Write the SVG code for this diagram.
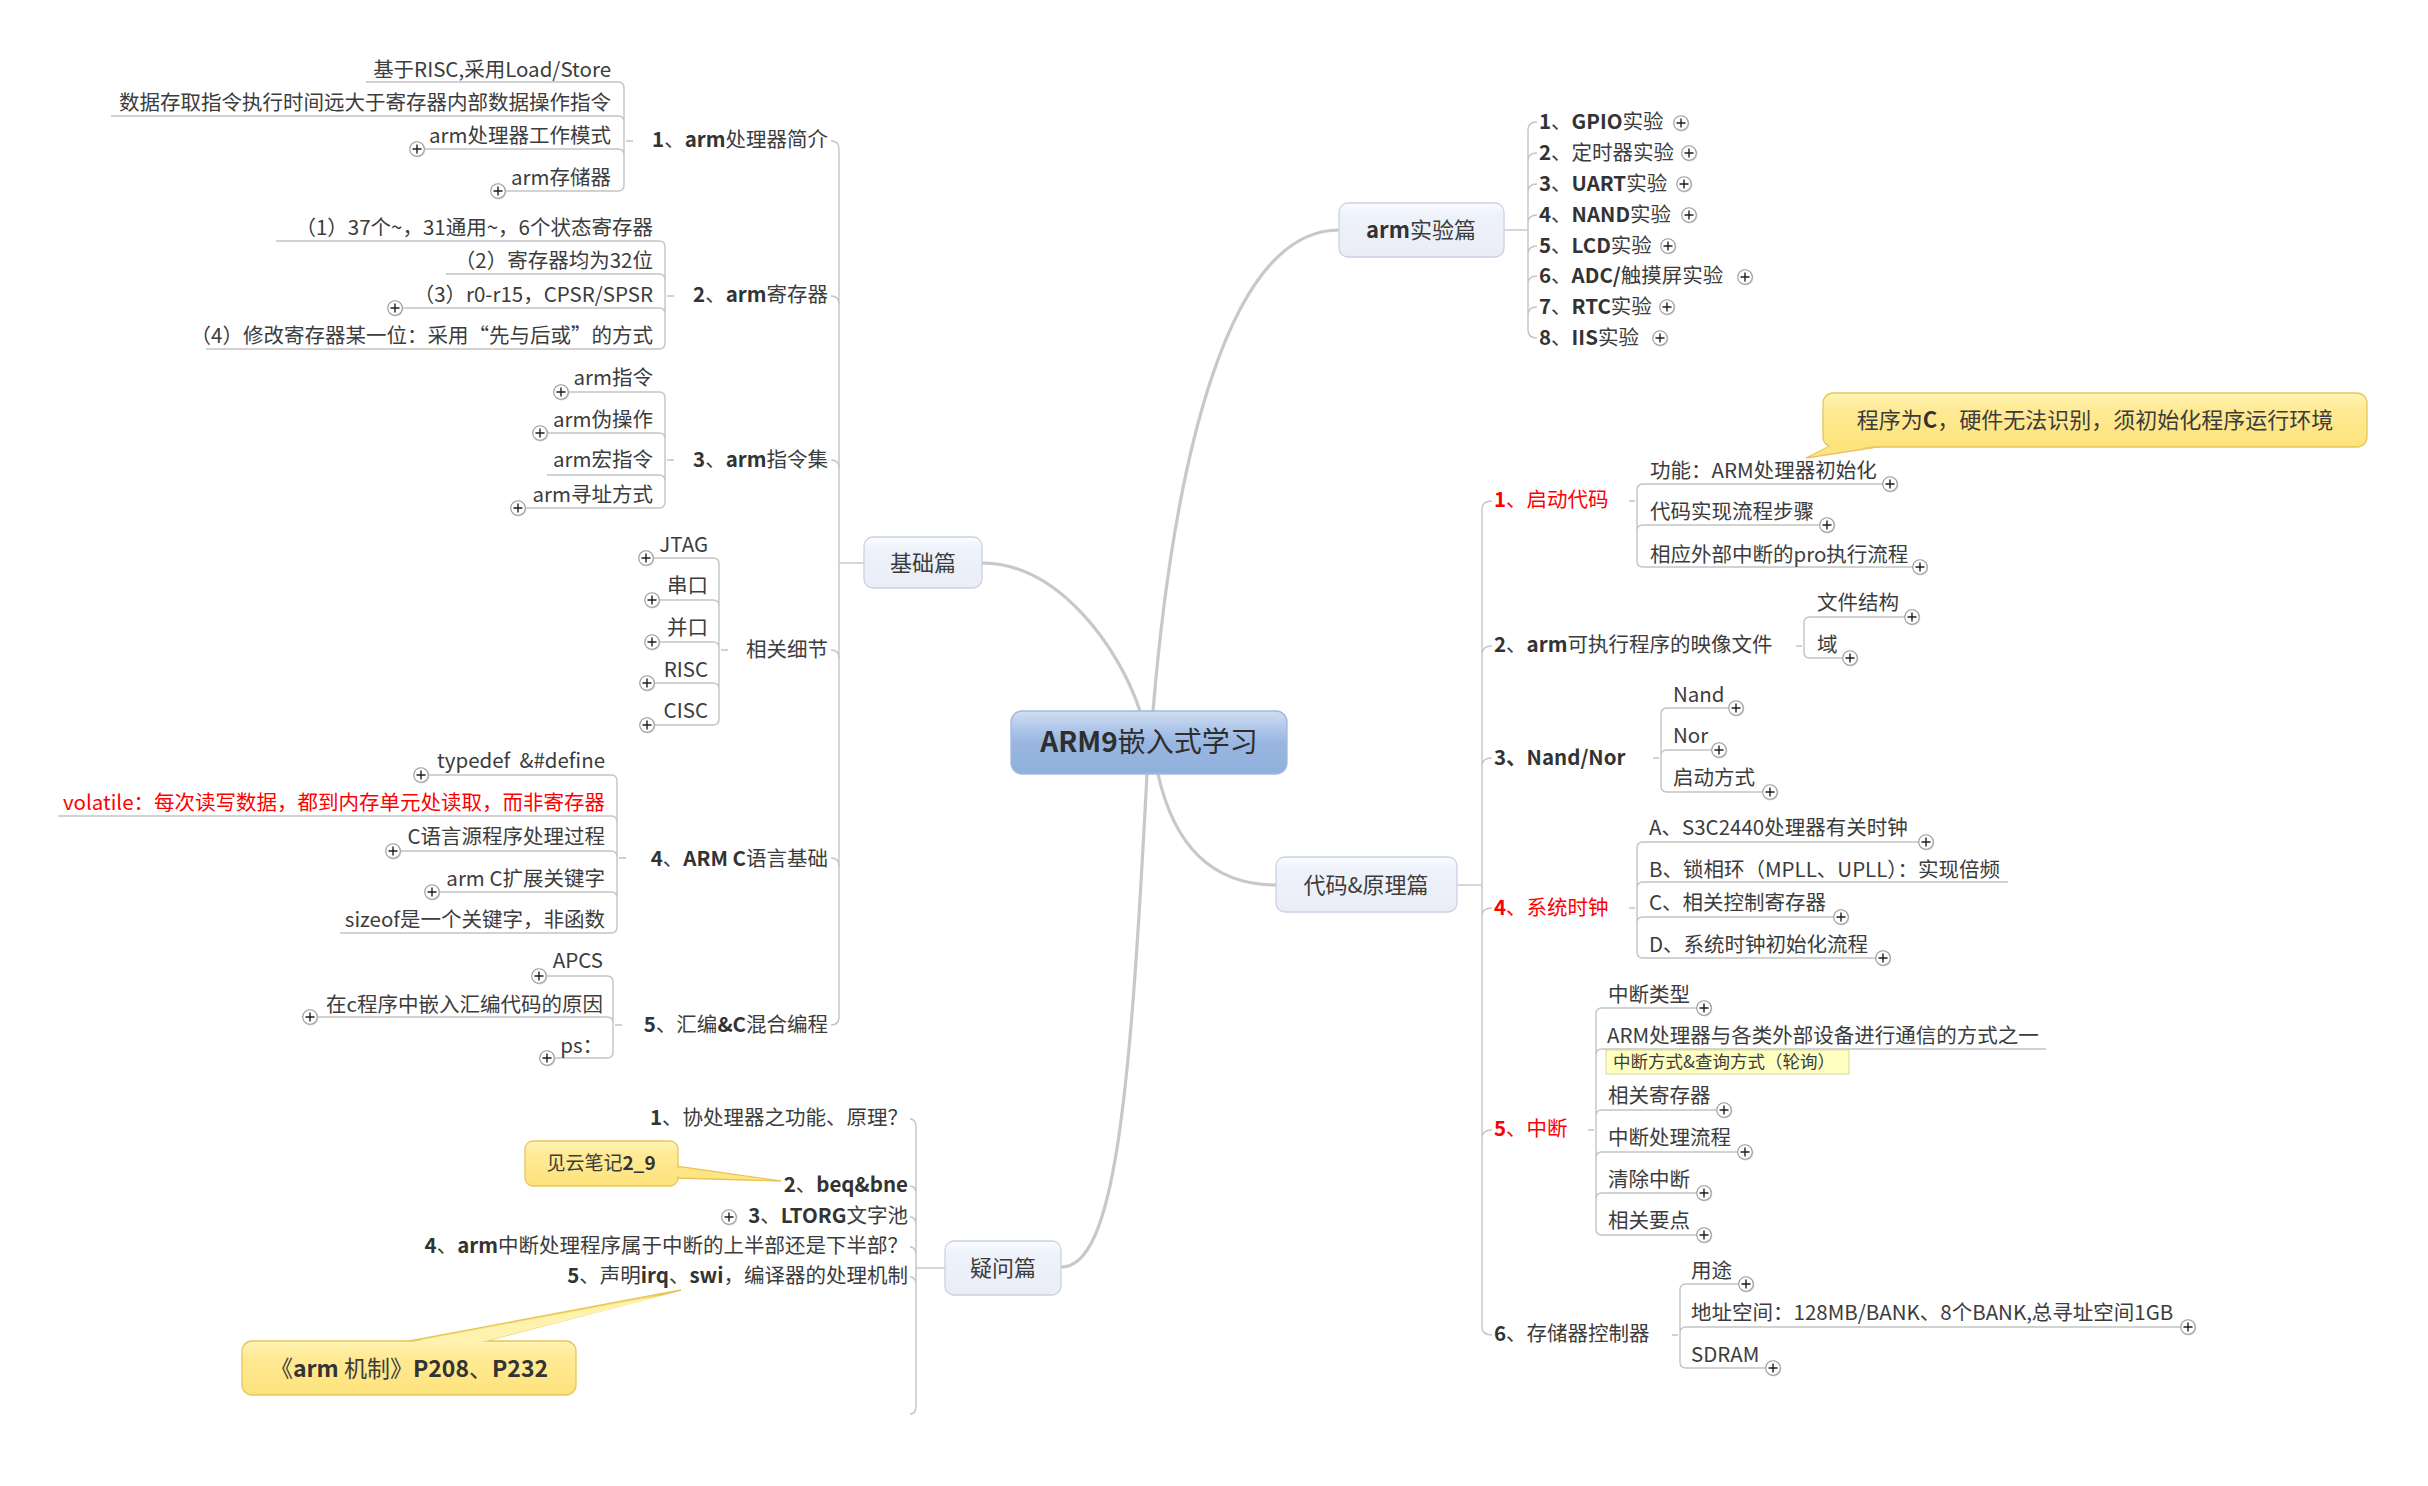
<svg xmlns="http://www.w3.org/2000/svg" xmlns:xlink="http://www.w3.org/1999/xlink" width="2428" height="1486" viewBox="0 0 2428 1486">
<defs>
<style>
.t{font-family:"Noto Sans CJK SC","Noto Sans",sans-serif;font-size:20.5px;fill:#3c3c3c}
.e{text-anchor:end}
.m{text-anchor:middle}
.b{font-weight:bold;fill:#333}
.r{fill:#ff0000}
.h{font-size:22px}
.ln{fill:none;stroke:#c4c4c4;stroke-width:1.4}
.main{fill:none;stroke:#c8c8c8;stroke-width:3.2;stroke-linecap:round}
.tb{fill:url(#gT);stroke:#cbd1e4;stroke-width:1.3}
.yb{fill:url(#gY);stroke:#e6c65a;stroke-width:1.3}
.yp{fill:#fde788;stroke:#e6c65a;stroke-width:1.3}
</style>
<linearGradient id="gC" x1="0" y1="0" x2="0" y2="1"><stop offset="0" stop-color="#d0def3"/><stop offset="0.3" stop-color="#adc5e8"/><stop offset="0.5" stop-color="#98b6df"/><stop offset="1" stop-color="#90b0dc"/></linearGradient>
<linearGradient id="gT" x1="0" y1="0" x2="0" y2="1"><stop offset="0" stop-color="#fafcff"/><stop offset="0.22" stop-color="#eef2fb"/><stop offset="1" stop-color="#eaedf6"/></linearGradient>
<linearGradient id="gY" x1="0" y1="0" x2="0" y2="1"><stop offset="0" stop-color="#fff4b6"/><stop offset="0.3" stop-color="#ffea95"/><stop offset="1" stop-color="#fde37c"/></linearGradient>
<g id="pl"><circle r="7.8" cx="0.6" cy="0.8" fill="#d8d8d8"/><circle r="7.3" fill="#fff" stroke="#999" stroke-width="1.1"/><path d="M-4.5 0H4.5M0 -4.5V4.5" stroke="#1e1e1e" stroke-width="1.4"/></g>
</defs>
<rect width="2428" height="1486" fill="#fff"/>

<g id="connectors">
<path class="main" d="M1140 711 C1120 650 1060 563 982 563"/>
<path class="main" d="M1153 711 C1175 450 1230 230 1339 230"/>
<path class="main" d="M1158 774 C1175 850 1215 885 1276 885"/>
<path class="main" d="M1147 774 C1130 1100 1115 1267 1061 1267"/>
<g class="ln">
<path d="M839 563 H864"/>
<path d="M831 141 Q839 141 839 149 V1017 Q839 1025 831 1025"/>
<path d="M831 296 Q839 296 839 304 M831 460 Q839 460 839 468 M831 650 Q839 650 839 658 M831 858 Q839 858 839 866"/>
<path d="M366 82 H618 Q624 82 624 88 M111 116 H618 Q624 116 624 122 M417 149 H618 Q624 149 624 155 M498 191 H618 Q624 191 624 185 M624 88 V185 M626 141 H633"/>
<path d="M276 241 H659 Q665 241 665 247 M446 274 H659 Q665 274 665 280 M395 308 H659 Q665 308 665 314 M206 349 H659 Q665 349 665 343 M665 247 V343 M667 296 H674"/>
<path d="M561 392 H659 Q665 392 665 398 M540 433 H659 Q665 433 665 439 M547 475 H659 Q665 475 665 481 M518 508 H659 Q665 508 665 502 M665 398 V502 M667 460 H674"/>
<path d="M646 558 H713 Q719 558 719 564 M652 600 H713 Q719 600 719 606 M652 642 H713 Q719 642 719 648 M647 683 H713 Q719 683 719 689 M647 725 H713 Q719 725 719 719 M719 564 V719 M721 650 H728"/>
<path d="M421 775 H611 Q617 775 617 781 M58 816 H611 Q617 816 617 822 M393 851 H611 Q617 851 617 857 M432 892 H611 Q617 892 617 898 M340 933 H611 Q617 933 617 927 M617 781 V927 M619 858 H626"/>
<path d="M539 976 H607 Q613 976 613 982 M310 1017 H607 Q613 1017 613 1023 M547 1058 H607 Q613 1058 613 1052 M613 982 V1052 M615 1025 H622"/>
<path d="M1504 230 H1528"/>
<path d="M1537 122 Q1528 122 1528 130 V330 Q1528 338 1537 338 M1537 153 Q1528 153 1528 161 M1537 184 Q1528 184 1528 192 M1537 215 Q1528 215 1528 223 M1537 246 Q1528 246 1528 254 M1537 276 Q1528 276 1528 284 M1537 307 Q1528 307 1528 315"/>
<path d="M1457 885 H1482"/>
<path d="M1492 501 Q1482 501 1482 509 V1327 Q1482 1335 1492 1335 M1492 646 Q1482 646 1482 654 M1492 758 Q1482 758 1482 766 M1492 908 Q1482 908 1482 916 M1492 1130 Q1482 1130 1482 1138"/>
<path d="M1637 490 Q1637 484 1643 484 H1890 M1637 531 Q1637 525 1643 525 H1827 M1637 561 Q1637 567 1643 567 H1920 M1637 490 V561 M1629 501 H1635"/>
<path d="M1804 623 Q1804 617 1810 617 H1912 M1804 652 Q1804 658 1810 658 H1850 M1804 623 V652 M1796 646 H1802"/>
<path d="M1661 714 Q1661 708 1667 708 H1736 M1661 756 Q1661 750 1667 750 H1719 M1661 786 Q1661 792 1667 792 H1770 M1661 714 V786 M1653 758 H1659"/>
<path d="M1637 848 Q1637 842 1643 842 H1926 M1637 888 Q1637 882 1643 882 H2008 M1637 923 Q1637 917 1643 917 H1841 M1637 952 Q1637 958 1643 958 H1883 M1637 848 V952 M1629 908 H1635"/>
<path d="M1596 1014 Q1596 1008 1602 1008 H1704 M1596 1055 Q1596 1049 1602 1049 H2046 M1596 1116 Q1596 1110 1602 1110 H1724 M1596 1158 Q1596 1152 1602 1152 H1745 M1596 1199 Q1596 1193 1602 1193 H1704 M1596 1229 Q1596 1235 1602 1235 H1704 M1596 1014 V1229 M1588 1130 H1594"/>
<path d="M1680 1290 Q1680 1284 1686 1284 H1746 M1680 1333 Q1680 1327 1686 1327 H2188 M1680 1362 Q1680 1368 1686 1368 H1773 M1680 1290 V1362 M1672 1335 H1678"/>
<path d="M945 1268 H916"/>
<path d="M910 1119 Q916 1119 916 1127 V1406 Q916 1414 910 1414 M910 1186 Q916 1186 916 1194 M910 1217 Q916 1217 916 1225 M910 1247 Q916 1247 916 1255 M910 1277 Q916 1277 916 1285"/>
</g>
</g>

<g id="node-center">
<rect x="1011" y="711" width="276" height="63" rx="11" fill="url(#gC)" stroke="#a3b9dc" stroke-width="1.3"/>
<text x="1149" y="752" class="t m" style="font-size:28px;fill:#2e2e2e"><tspan class="b" style="fill:#2e2e2e">ARM9</tspan>嵌入式学习</text>
</g>

<g id="node-jichu">
<rect class="tb" x="864" y="537" width="118" height="51" rx="9"/>
<text x="923" y="571" class="t m h">基础篇</text>
</g>
<g id="node-shiyan">
<rect class="tb" x="1339" y="203" width="165" height="54" rx="9"/>
<text x="1421" y="238" class="t m h"><tspan class="b">arm</tspan>实验篇</text>
</g>
<g id="node-daima">
<rect class="tb" x="1276" y="857" width="181" height="55" rx="9"/>
<text x="1366" y="893" class="t m h">代码&amp;原理篇</text>
</g>
<g id="node-yiwen">
<rect class="tb" x="945" y="1241" width="116" height="54" rx="9"/>
<text x="1003" y="1276" class="t m h">疑问篇</text>
</g>

<g id="node-l1">
<text x="828" y="147" class="t e"><tspan class="b">1</tspan>、<tspan class="b">arm</tspan>处理器简介</text>
<text x="611" y="77" class="t e">基于RISC,采用Load/Store</text>
<text x="611" y="110" class="t e">数据存取指令执行时间远大于寄存器内部数据操作指令</text>
<text x="611" y="143" class="t e">arm处理器工作模式</text>
<text x="611" y="185" class="t e">arm存储器</text>
<use href="#pl" x="417" y="149"/><use href="#pl" x="498" y="191"/>
</g>
<g id="node-l2">
<text x="828" y="302" class="t e"><tspan class="b">2</tspan>、<tspan class="b">arm</tspan>寄存器</text>
<text x="653" y="235" class="t e">（1）37个~，31通用~，6个状态寄存器</text>
<text x="653" y="268" class="t e">（2）寄存器均为32位</text>
<text x="653" y="302" class="t e">（3）r0-r15，CPSR/SPSR</text>
<text x="653" y="343" class="t e">（4）修改寄存器某一位：采用“先与后或”的方式</text>
<use href="#pl" x="395" y="308"/>
</g>
<g id="node-l3">
<text x="828" y="467" class="t e"><tspan class="b">3</tspan>、<tspan class="b">arm</tspan>指令集</text>
<text x="653" y="385" class="t e">arm指令</text>
<text x="653" y="427" class="t e">arm伪操作</text>
<text x="653" y="467" class="t e">arm宏指令</text>
<text x="653" y="502" class="t e">arm寻址方式</text>
<use href="#pl" x="561" y="392"/><use href="#pl" x="540" y="433"/><use href="#pl" x="518" y="508"/>
</g>
<g id="node-l4">
<text x="828" y="657" class="t e">相关细节</text>
<text x="708" y="552" class="t e">JTAG</text>
<text x="708" y="593" class="t e">串口</text>
<text x="708" y="635" class="t e">并口</text>
<text x="708" y="677" class="t e">RISC</text>
<text x="708" y="718" class="t e">CISC</text>
<use href="#pl" x="646" y="558"/><use href="#pl" x="652" y="600"/><use href="#pl" x="652" y="642"/><use href="#pl" x="647" y="683"/><use href="#pl" x="647" y="725"/>
</g>
<g id="node-l5">
<text x="828" y="866" class="t e"><tspan class="b">4</tspan>、<tspan class="b">ARM C</tspan>语言基础</text>
<text x="605" y="768" class="t e">typedef&#160;&#160;&amp;#define</text>
<text x="605" y="810" class="t e r">volatile：每次读写数据，都到内存单元处读取，而非寄存器</text>
<text x="605" y="844" class="t e">C语言源程序处理过程</text>
<text x="605" y="886" class="t e">arm C扩展关键字</text>
<text x="605" y="927" class="t e">sizeof是一个关键字，非函数</text>
<use href="#pl" x="421" y="775"/><use href="#pl" x="393" y="851"/><use href="#pl" x="432" y="892"/>
</g>
<g id="node-l6">
<text x="828" y="1032" class="t e"><tspan class="b">5</tspan>、汇编<tspan class="b">&amp;C</tspan>混合编程</text>
<text x="603" y="968" class="t e">APCS</text>
<text x="603" y="1012" class="t e">在c程序中嵌入汇编代码的原因</text>
<text x="603" y="1053" class="t e">ps：</text>
<use href="#pl" x="539" y="976"/><use href="#pl" x="310" y="1017"/><use href="#pl" x="547" y="1058"/>
</g>

<g id="node-exp">
<text x="1539" y="129" class="t"><tspan class="b">1</tspan>、<tspan class="b">GPIO</tspan>实验</text>
<text x="1539" y="160" class="t"><tspan class="b">2</tspan>、定时器实验</text>
<text x="1539" y="191" class="t"><tspan class="b">3</tspan>、<tspan class="b">UART</tspan>实验</text>
<text x="1539" y="222" class="t"><tspan class="b">4</tspan>、<tspan class="b">NAND</tspan>实验</text>
<text x="1539" y="253" class="t"><tspan class="b">5</tspan>、<tspan class="b">LCD</tspan>实验</text>
<text x="1539" y="283" class="t"><tspan class="b">6</tspan>、<tspan class="b">ADC/</tspan>触摸屏实验</text>
<text x="1539" y="314" class="t"><tspan class="b">7</tspan>、<tspan class="b">RTC</tspan>实验</text>
<text x="1539" y="345" class="t"><tspan class="b">8</tspan>、<tspan class="b">IIS</tspan>实验</text>
<use href="#pl" x="1681" y="123"/><use href="#pl" x="1689" y="153"/><use href="#pl" x="1684" y="184"/><use href="#pl" x="1689" y="215"/><use href="#pl" x="1668" y="246"/><use href="#pl" x="1745" y="277"/><use href="#pl" x="1667" y="307"/><use href="#pl" x="1660" y="338"/>
</g>

<g id="node-r1">
<text x="1494" y="507" class="t r"><tspan class="b r">1</tspan>、启动代码</text>
<text x="1650" y="478" class="t">功能：ARM处理器初始化</text>
<text x="1650" y="519" class="t">代码实现流程步骤</text>
<text x="1650" y="562" class="t">相应外部中断的pro执行流程</text>
<use href="#pl" x="1890" y="484"/><use href="#pl" x="1827" y="525"/><use href="#pl" x="1920" y="567"/>
</g>
<g id="callout-r1">
<polygon class="yp" points="1832,445 1890,445 1806,458"/>
<rect class="yb" x="1823" y="393" width="544" height="54" rx="10"/>
<polygon points="1834,444 1886,444 1812,456" fill="#fde47e"/>
<text x="2095" y="428" class="t m h">程序为<tspan class="b">C</tspan>，硬件无法识别，须初始化程序运行环境</text>
</g>
<g id="node-r2">
<text x="1494" y="652" class="t"><tspan class="b">2</tspan>、<tspan class="b">arm</tspan>可执行程序的映像文件</text>
<text x="1817" y="610" class="t">文件结构</text>
<text x="1817" y="652" class="t">域</text>
<use href="#pl" x="1912" y="617"/><use href="#pl" x="1850" y="658"/>
</g>
<g id="node-r3">
<text x="1494" y="765" class="t b"><tspan>3</tspan>、Nand/Nor</text>
<text x="1673" y="702" class="t">Nand</text>
<text x="1673" y="743" class="t">Nor</text>
<text x="1673" y="785" class="t">启动方式</text>
<use href="#pl" x="1736" y="708"/><use href="#pl" x="1719" y="750"/><use href="#pl" x="1770" y="792"/>
</g>
<g id="node-r4">
<text x="1494" y="915" class="t r"><tspan class="b r">4</tspan>、系统时钟</text>
<text x="1649" y="835" class="t">A、S3C2440处理器有关时钟</text>
<text x="1649" y="877" class="t">B、锁相环（MPLL、UPLL）：实现倍频</text>
<text x="1649" y="910" class="t">C、相关控制寄存器</text>
<text x="1649" y="952" class="t">D、系统时钟初始化流程</text>
<use href="#pl" x="1926" y="842"/><use href="#pl" x="1841" y="917"/><use href="#pl" x="1883" y="958"/>
</g>
<g id="node-r5">
<text x="1494" y="1136" class="t r"><tspan class="b r">5</tspan>、中断</text>
<text x="1608" y="1002" class="t">中断类型</text>
<text x="1607" y="1043" class="t">ARM处理器与各类外部设备进行通信的方式之一</text>
<rect x="1606" y="1050" width="243" height="24" fill="#ffffc2" stroke="#d9d99a" stroke-width="1"/>
<text x="1613" y="1068" class="t" style="font-size:17.5px">中断方式&amp;查询方式（轮询）</text>
<text x="1608" y="1103" class="t">相关寄存器</text>
<text x="1608" y="1145" class="t">中断处理流程</text>
<text x="1608" y="1187" class="t">清除中断</text>
<text x="1608" y="1228" class="t">相关要点</text>
<use href="#pl" x="1704" y="1008"/><use href="#pl" x="1724" y="1110"/><use href="#pl" x="1745" y="1152"/><use href="#pl" x="1704" y="1193"/><use href="#pl" x="1704" y="1235"/>
</g>
<g id="node-r6">
<text x="1494" y="1341" class="t"><tspan class="b">6</tspan>、存储器控制器</text>
<text x="1691" y="1278" class="t">用途</text>
<text x="1691" y="1320" class="t">地址空间：128MB/BANK、8个BANK,总寻址空间1GB</text>
<text x="1691" y="1362" class="t">SDRAM</text>
<use href="#pl" x="1746" y="1284"/><use href="#pl" x="2188" y="1327"/><use href="#pl" x="1773" y="1368"/>
</g>

<g id="node-q">
<text x="908" y="1125" class="t e"><tspan class="b">1</tspan>、协处理器之功能、原理？</text>
<text x="908" y="1192" class="t e"><tspan class="b">2</tspan>、<tspan class="b">beq&amp;bne</tspan></text>
<text x="908" y="1223" class="t e"><tspan class="b">3</tspan>、<tspan class="b">LTORG</tspan>文字池</text>
<text x="908" y="1253" class="t e"><tspan class="b">4</tspan>、<tspan class="b">arm</tspan>中断处理程序属于中断的上半部还是下半部？</text>
<text x="908" y="1283" class="t e"><tspan class="b">5</tspan>、声明<tspan class="b">irq</tspan>、<tspan class="b">swi</tspan>，编译器的处理机制</text>
<use href="#pl" x="729" y="1217"/>
</g>
<g id="callout-q2">
<polygon class="yp" points="676,1166 676,1178 781,1181"/>
<rect class="yb" x="525" y="1141" width="153" height="45" rx="8"/>
<polygon points="677,1168 677,1176 770,1180" fill="#fde582"/>
<text x="601" y="1170" class="t m" style="font-size:19px">见云笔记<tspan class="b">2_9</tspan></text>
</g>
<g id="callout-q5">
<polygon class="yp" points="404,1342 481,1342 681,1290"/>
<rect class="yb" x="242" y="1341" width="334" height="54" rx="10"/>
<polygon points="407,1343 478,1343 670,1294" fill="#fff1ae"/>
<text x="409" y="1377" class="t m" style="font-size:23px">《<tspan class="b">arm</tspan> 机制》<tspan class="b">P208</tspan>、<tspan class="b">P232</tspan></text>
</g>
</svg>
